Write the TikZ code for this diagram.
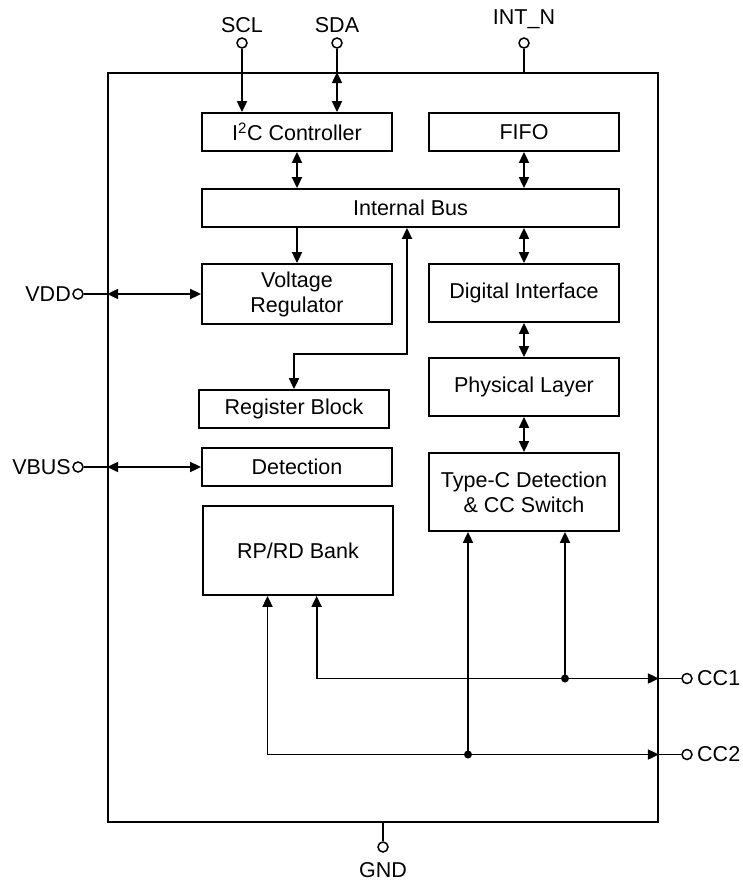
\documentclass[tikz,border=0pt]{standalone}
\usepackage{fontspec}
\setmainfont{Liberation Sans}
\usetikzlibrary{arrows.meta}
\tikzset{
  blk/.style={draw, line width=1.8pt, minimum width=190pt, inner sep=0pt, align=center},
  pin/.style={draw, circle, line width=1.5pt, fill=white, minimum size=10pt, inner sep=0pt},
  wire/.style={line width=1.8pt},
  sig/.style={wire, -{Triangle[length=11pt,width=10pt]}},
  bisig/.style={wire, {Triangle[length=11pt,width=10pt]}-{Triangle[length=11pt,width=10pt]}},
  jn/.style={circle, fill, minimum size=8pt, inner sep=0pt}
}
\begin{document}
\begin{tikzpicture}[x=1pt, y=-1pt, font=\fontsize{21.5}{25}\selectfont]
    \useasboundingbox (0,0) rectangle (742,881);
    \node[draw, line width=1.8pt, minimum width=550pt, minimum height=749pt] (chip) at (383,447.5) {};
    \node[blk, minimum height=38pt] (i2c) at (297,132) {I\textsuperscript{2}C Controller};
    \node[blk, minimum height=38pt] (fifo) at (524,132) {FIFO};
    \node[blk, minimum height=38pt, minimum width=417pt] (bus) at (410.5,208) {Internal Bus};
    \node[blk, minimum height=60pt] (vreg) at (297,294) {Voltage\\Regulator};
    \node[blk, minimum height=58pt] (digif) at (524,293) {Digital Interface};
    \node[blk, minimum height=58pt] (phy) at (524,387) {Physical Layer};
    \node[blk, minimum height=38pt] (reg) at (294,409) {Register Block};
    \node[blk, minimum height=38pt] (det) at (297,467) {Detection};
    \node[blk, minimum height=78pt] (typec) at (524,492) {Type-C Detection\\\& CC Switch};
    \node[blk, minimum height=89pt] (rprd) at (298,550.5) {RP/RD Bank};
    % pins
    \node[pin] (scl) at (242,43) {};
    \node[pin] (sda) at (337,43) {};
    \node[pin] (intn) at (524,43) {};
    \node[pin] (vdd) at (78,294) {};
    \node[pin] (vbus) at (78,467) {};
    \node[pin] (cc1) at (687,678.5) {};
    \node[pin] (cc2) at (687,754.5) {};
    \node[pin] (gnd) at (383,847) {};
    \node (scltxt) at (242,25) {SCL};
    \node (sdatxt) at (337,25) {SDA};
    \node (intntxt) at (524,19) {INT\_N};
    \node[anchor=east, inner sep=0pt] (vddtxt) at (71,294) {VDD};
    \node[anchor=east, inner sep=0pt] (vbustxt) at (71,467) {VBUS};
    \node[anchor=west, inner sep=0pt] (cc1txt) at (697,678.5) {CC1};
    \node[anchor=west, inner sep=0pt] (cc2txt) at (697,754.5) {CC2};
    \node (gndtxt) at (383,870) {GND};
    % pin wires
    \draw[sig] (scl.south) -- (scl |- i2c.north);
    \draw[wire] (sda.south) -- (sda |- chip.north);
    \draw[bisig] (sda |- chip.north) -- (sda |- i2c.north);
    \draw[wire] (intn.south) -- (intn |- chip.north);
    \draw[wire] (gnd.north) -- (gnd |- chip.south);
    \draw[wire] (vdd.east) -- (vdd -| chip.west);
    \draw[bisig] (vdd -| chip.west) -- (vreg.west);
    \draw[wire] (vbus.east) -- (vbus -| chip.west);
    \draw[bisig] (vbus -| chip.west) -- (det.west);
    % internal bus
    \draw[bisig] (i2c.south) -- (i2c.south |- bus.north);
    \draw[bisig] (fifo.south) -- (fifo.south |- bus.north);
    \draw[sig] (vreg.north |- bus.south) -- (vreg.north);
    \draw[bisig] (digif.north |- bus.south) -- (digif.north);
    \draw[bisig] (digif.south) -- (phy.north);
    \draw[bisig] (phy.south) -- (typec.north);
    \coordinate (regbend) at (407,354);
    \draw[bisig] (reg.north) |- (regbend) -- (regbend |- bus.south);
    % CC lines
    \coordinate (cc1j) at (565,678.5);
    \coordinate (cc2j) at (468,754.5);
    \draw[bisig] ([xshift=18.6pt]rprd.south) |- (chip.east |- cc1j);
    \draw[wire] (chip.east |- cc1j) -- (cc1.west);
    \draw[sig] (cc1j) -- (cc1j |- typec.south);
    \node[jn] (cc1dot) at (cc1j) {};
    \draw[bisig] ([xshift=-30.5pt]rprd.south) |- (chip.east |- cc2j);
    \draw[wire] (chip.east |- cc2j) -- (cc2.west);
    \draw[sig] (cc2j) -- (cc2j |- typec.south);
    \node[jn] (cc2dot) at (cc2j) {};
\end{tikzpicture}
\end{document}
